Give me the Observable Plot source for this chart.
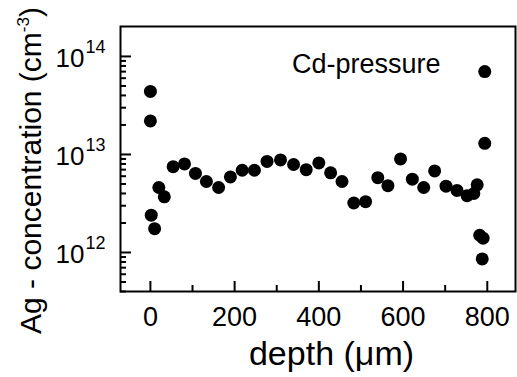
<!DOCTYPE html>
<html><head><meta charset="utf-8">
<script src="https://cdn.jsdelivr.net/npm/d3@7"></script>
<script src="https://cdn.jsdelivr.net/npm/@observablehq/plot@0.6"></script>
<style>body{margin:0;background:#fff} svg{display:block}</style>
</head><body><div id="chart"></div>
<script>
const depth = [0, 0, 2, 10, 20, 33, 54, 81, 107, 133, 162, 190, 218, 247, 277, 309, 340, 370, 400, 428, 455, 483, 511, 540, 564, 594, 622, 649, 675, 702, 728, 752, 768, 776, 782, 790, 788, 794, 794];
const conc = [4.4e13, 2.2e13, 2.4e12, 1.75e12, 4.6e12, 3.7e12, 7.5e12, 8.0e12, 6.4e12, 5.3e12, 4.6e12, 5.9e12, 6.9e12, 6.9e12, 8.5e12, 8.8e12, 7.9e12, 7.0e12, 8.2e12, 6.5e12, 5.3e12, 3.2e12, 3.3e12, 5.8e12, 4.8e12, 9.0e12, 5.6e12, 4.6e12, 6.8e12, 4.75e12, 4.3e12, 3.8e12, 4.0e12, 4.9e12, 1.5e12, 1.4e12, 8.6e11, 1.3e13, 7.0e13];
const xMajorTicks = [0, 200, 400, 600, 800];
const xMinorTicks = [100, 300, 500, 700];
const yMajorTicks = [1e12, 1e13, 1e14];
const yMajorExponents = ["12", "13", "14"];
const yMinorTicks = [4e11, 5e11, 6e11, 7e11, 8e11, 9e11, 2e12, 3e12, 4e12, 5e12, 6e12, 7e12, 8e12, 9e12, 2e13, 3e13, 4e13, 5e13, 6e13, 7e13, 8e13, 9e13];
const legendText = "Cd-pressure";
const xTitle = "depth (\u03bcm)";
const yTitle = "Ag - concentration (cm";
const yTitleSup = "-3";
const yTitleEnd = ")";

const points = depth.map((d, i) => ({depth: d, conc: conc[i]}));
const font = "'Liberation Sans', Arial, Helvetica, sans-serif";

const plot = Plot.plot({
  width: 517, height: 377,
  marginLeft: 120, marginRight: 2, marginTop: 26, marginBottom: 86,
  style: {fontFamily: font, background: "#fff", color: "#000", overflow: "visible"},
  x: {domain: [-71, 867]},
  y: {type: "log", domain: [4e11, 2.02e14]},
  marks: [
    Plot.axisX(xMinorTicks, {tickSize: -6, strokeWidth: 2, tickFormat: () => "", label: null}),
    Plot.axisX(xMajorTicks, {tickSize: -10, strokeWidth: 2, tickPadding: 25, fontSize: 27, label: null}),
    Plot.axisY(yMinorTicks, {tickSize: -6, strokeWidth: 2, tickFormat: () => "", label: null}),
    Plot.axisY(yMajorTicks, {tickSize: -11, strokeWidth: 2, tickFormat: () => "", label: null}),
    Plot.text(yMajorTicks, {y: d => d, text: () => "10", frameAnchor: "left", textAnchor: "end", lineAnchor: "middle", dx: -36, dy: 2, fontSize: 26}),
    Plot.text(yMajorTicks, {y: d => d, text: (d, i) => yMajorExponents[i], frameAnchor: "left", textAnchor: "start", lineAnchor: "middle", dx: -35, dy: -9, fontSize: 18}),
    Plot.dot(points, {x: "depth", y: "conc", r: 6.5, fill: "#000", stroke: "none"}),
    Plot.frame({strokeWidth: 2}),
    Plot.text([legendText], {frameAnchor: "top-right", textAnchor: "end", lineAnchor: "middle", dx: -75, dy: 38, fontSize: 27}),
    Plot.text([xTitle], {frameAnchor: "bottom", textAnchor: "middle", lineAnchor: "middle", dx: 13.5, dy: 63, fontSize: 34}),
    Plot.text([yTitle], {frameAnchor: "left", textAnchor: "middle", lineAnchor: "middle", rotate: -90, dx: -89.6, dy: 11.5, fontSize: 30})
  ]
});

d3.select(plot).selectAll("text").filter(function() { return this.textContent === yTitle; }).each(function() {
  const t = d3.select(this);
  t.text(null);
  t.append("tspan").text(yTitle);
  t.append("tspan").attr("font-size", 17).attr("dy", -12).text(yTitleSup);
  t.append("tspan").attr("font-size", 30).attr("dy", 12).text(yTitleEnd);
});

document.getElementById("chart").appendChild(plot);
</script>
</body></html>
